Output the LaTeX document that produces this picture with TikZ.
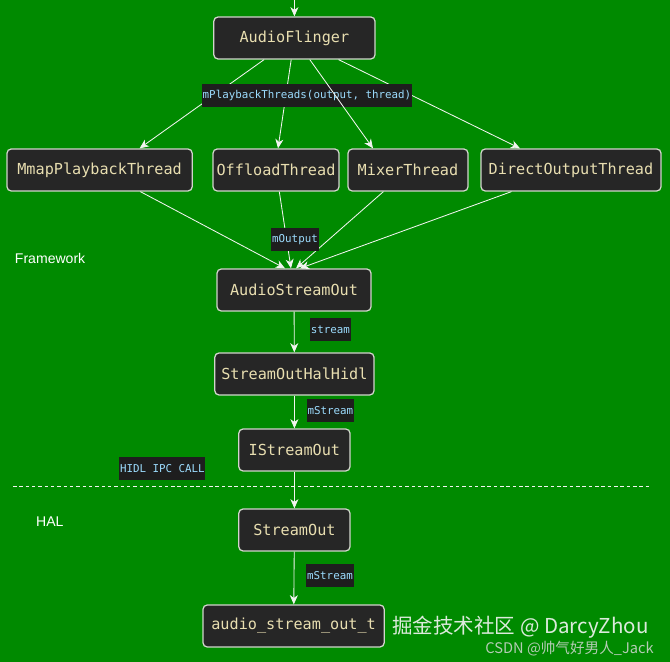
\documentclass[tikz,border=0pt]{standalone}
\usepackage{fontspec}
\setmainfont{Liberation Sans}
\setmonofont{DejaVu Sans Mono}
\newfontfamily\cjkfont{Noto Sans CJK SC}
\usetikzlibrary{arrows.meta}
\usepackage{xcolor}
\definecolor{bggreen}{HTML}{008A00}
\definecolor{nodefill}{HTML}{262626}
\definecolor{noderule}{HTML}{D2D6CC}
\definecolor{nodetext}{HTML}{E8DEB0}
\definecolor{lblbg}{HTML}{1E1E1E}
\definecolor{lbltext}{HTML}{9CDCFE}
\definecolor{edgecol}{HTML}{F2F4F0}
\definecolor{markfg}{HTML}{DCEADC}
\definecolor{markfg2}{HTML}{B4CCB4}

\begin{document}
\begin{tikzpicture}[
  cls/.style={draw=noderule, fill=nodefill, line width=0.9pt, rounded corners=3pt,
              text=nodetext, minimum height=1.05cm, inner xsep=0pt,
              font=\fontsize{10.8}{12}\selectfont\ttfamily},
  lbl/.style={fill=lblbg, text=lbltext, inner xsep=0.5pt, inner ysep=0pt,
              minimum height=0.575cm, font=\fontsize{7.7}{9}\selectfont\ttfamily},
  call/.style={-{Stealth[length=2.3mm, width=2mm, inset=0.7mm]}, draw=edgecol, line width=0.6pt},
  layer/.style={text=white, anchor=west, font=\fontsize{10}{12}\selectfont},
]

\fill[bggreen] (0,0) rectangle (16.75,16.55);
\useasboundingbox (0,0) rectangle (16.75,16.55);

\node[cls, minimum width=4.03cm] (af) at (7.36,15.6) {AudioFlinger};
\node[cls, minimum width=4.63cm] (mmap) at (2.49,12.3) {MmapPlaybackThread};
\node[cls, minimum width=3.15cm] (offload) at (6.9,12.3) {OffloadThread};
\node[cls, minimum width=3.0cm] (mixer) at (10.2,12.3) {MixerThread};
\node[cls, minimum width=4.5cm] (direct) at (14.275,12.3) {DirectOutputThread};
\node[cls, minimum width=3.85cm] (aso) at (7.35,9.3) {AudioStreamOut};
\node[cls, minimum width=3.98cm] (hidl) at (7.36,7.2) {StreamOutHalHidl};
\node[cls, minimum width=2.78cm] (istream) at (7.36,5.3) {IStreamOut};
\node[cls, minimum width=2.78cm] (so) at (7.36,3.3) {StreamOut};
\node[cls, minimum width=4.53cm] (aout) at (7.34,0.9) {audio\_stream\_out\_t};

\coordinate (entry) at (7.36,16.55);
\draw[call] (entry) -- (af);

% fan out from AudioFlinger
\foreach \t/\dx in {mmap/1.0, direct/-1.275, offload/0.05}
  \draw[call] (af) -- ([xshift=\dx cm]\t.north);
\node[lbl] (pt) at (7.675,14.16) {mPlaybackThreads(output, thread)};
\draw[call] (af) -- ([xshift=-0.875cm]mixer.north);

% fan in to AudioStreamOut
\foreach \t/\dx in {mmap/-0.225, offload/-0.075, mixer/0.05, direct/0.15}
  \draw[call] (\t) -- ([xshift=\dx cm]aso.north);
\node[lbl] (mout) at (7.375,10.56) {mOutput};

\foreach \a/\b in {aso/hidl, hidl/istream, istream/so, so/aout}
  \draw[call] (\a) -- (\b);

\node[lbl] (st) at (8.26,8.31) {stream};
\node[lbl] (ms1) at (8.26,6.275) {mStream};
\node[lbl] (ipc) at (4.06,4.825) {HIDL IPC CALL};
\node[lbl] (ms2) at (8.25,2.15) {mStream};

% framework / hal split
\coordinate (splitl) at (0.325,4.4);
\coordinate (splitr) at (16.25,4.4);
\draw[edgecol, line width=0.6pt, dash pattern=on 2.5pt off 2pt] (splitl) -- (splitr);
\node[layer] (fw) at (0.25,10.1) {Framework};
\node[layer] (hal) at (0.78,3.5) {HAL};

% watermarks
\node[anchor=west, text=markfg, inner sep=0pt, font=\fontsize{14.6}{16}\cjkfont] (wm1)
  at (9.8,0.86) {掘金技术社区 @ DarcyZhou};
\node[anchor=east, text=markfg2, inner sep=0pt, font=\fontsize{10.4}{12}\cjkfont] (wm2)
  at (16.35,0.33) {CSDN @帅气好男人\_Jack};

\end{tikzpicture}
\end{document}
